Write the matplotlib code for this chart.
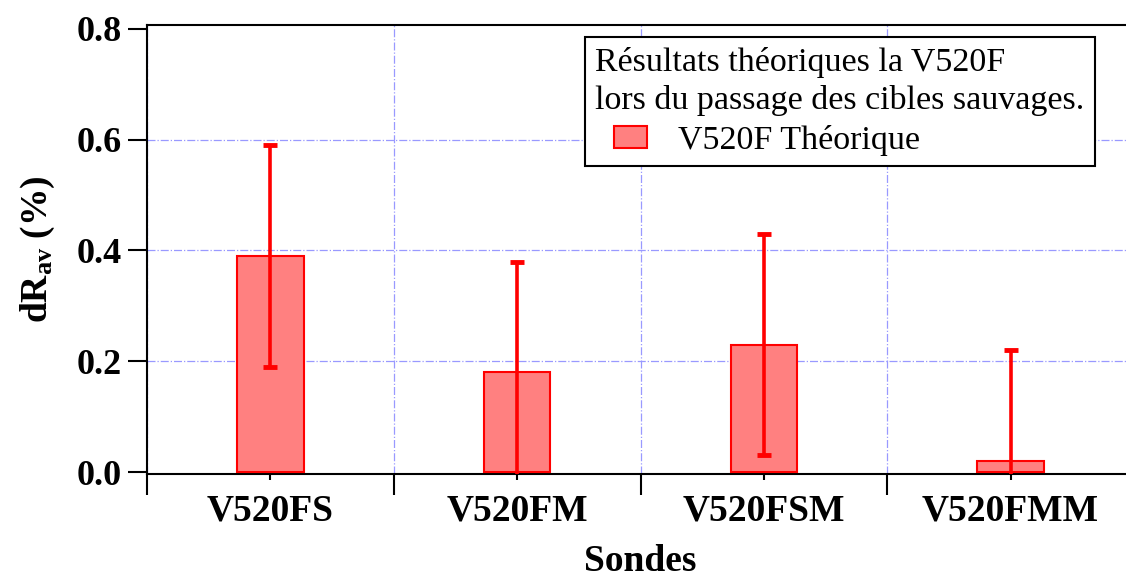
import matplotlib
matplotlib.use("Agg")
import matplotlib.pyplot as plt
from matplotlib.patches import Rectangle
from matplotlib.legend_handler import HandlerPatch
from matplotlib.container import BarContainer
import numpy as np

categories = ["V520FS", "V520FM", "V520FSM", "V520FMM"]
values = [0.39, 0.18, 0.23, 0.02]
errors = [0.20, 0.20, 0.20, 0.20]
yticks = [0.0, 0.2, 0.4, 0.6, 0.8]

plt.rcParams['font.family'] = ['Liberation Serif', 'DejaVu Serif']
plt.rcParams['mathtext.fontset'] = 'custom'
plt.rcParams['mathtext.rm'] = 'Liberation Serif'
plt.rcParams['mathtext.bf'] = 'Liberation Serif:bold'

fig = plt.figure(figsize=(11.26, 5.78), dpi=100)
ax = fig.add_axes([147/1126, 104/578, (1134-147)/1126, (474-25)/578])

x = np.arange(len(categories))
ax.bar(x, values, width=0.27, color='#ff8080', edgecolor='red', linewidth=1.5,
       label='V520F Théorique', zorder=3)
ax.errorbar(x, values, yerr=errors, fmt='none', ecolor='red', elinewidth=2.6,
            capsize=5, capthick=3.5, zorder=4)

ax.set_xlim(-0.5, 3.5)
ax.set_ylim(-0.0036, 0.807)
ax.set_yticks(yticks)
ax.set_yticklabels([f"{v:.1f}" for v in yticks], fontsize=26, fontweight='bold')
ax.set_xticks(x)
ax.set_xticklabels(categories, fontsize=27, fontweight='bold')
ax.set_xticks([-0.5, 0.5, 1.5, 2.5], minor=True)

ax.tick_params(axis='x', which='major', direction='out', length=4, width=1.5, pad=10)
ax.tick_params(axis='x', which='minor', direction='out', length=15, width=1.5)
ax.tick_params(axis='y', which='major', direction='out', length=14, width=1.5, pad=4)

gridcol = (0.6, 0.6, 1.0)
ax.grid(axis='x', which='minor', color=gridcol, linestyle='-.', linewidth=0.9, zorder=0)
ax.grid(axis='y', which='major', color=gridcol, linestyle='-.', linewidth=0.9, zorder=0)
ax.grid(axis='x', which='major', visible=False)
ygl = ax.yaxis.get_gridlines()
ygl[0].set_visible(False)
ygl[-1].set_visible(False)

for s in ['left', 'bottom', 'top']:
    ax.spines[s].set_linewidth(1.5)
ax.spines['right'].set_visible(False)

ax.set_xlabel('Sondes', fontsize=27, fontweight='bold', labelpad=11)
ax.set_ylabel(r'$\mathbf{dR_{av}}$ (%)', fontsize=27, fontweight='bold', labelpad=14)


def make_patch(legend, orig_handle, xdescent, ydescent, width, height, fontsize):
    w = width * 0.635
    return Rectangle((width - w - xdescent, -ydescent), w, height)


handler = HandlerPatch(patch_func=make_patch,
                       update_func=lambda h, o: h.update_from(o.patches[0]))

leg = ax.legend(title='Résultats théoriques la V520F\nlors du passage des cibles sauvages.',
                loc='upper left', bbox_to_anchor=((585-147)/987, (474-37)/449),
                fontsize=24.5, title_fontsize=24.5, frameon=True, fancybox=False,
                edgecolor='black', framealpha=1, borderpad=0.3, labelspacing=0.2,
                handlelength=1.53, handleheight=0.62, handletextpad=0.9, borderaxespad=0,
                handler_map={BarContainer: handler})
leg._legend_box.align = 'left'
leg._legend_box.sep = 6
leg.get_title().set_linespacing(1.3)
leg.get_frame().set_linewidth(1.5)

fig.savefig('out.png', dpi=100)
